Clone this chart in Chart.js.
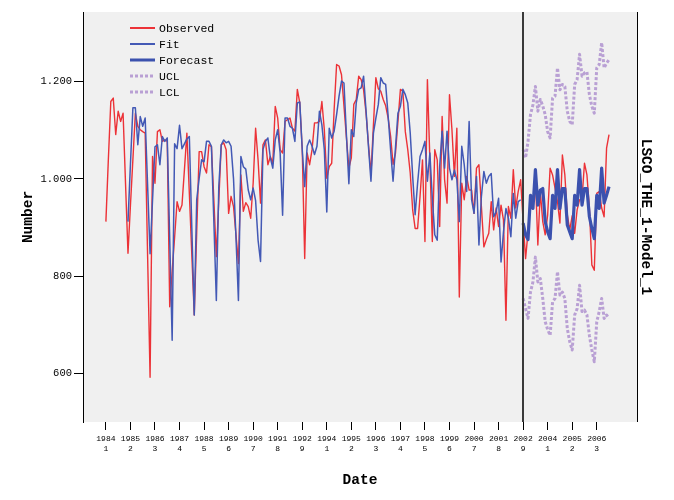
<!DOCTYPE html>
<html>
<head>
<meta charset="utf-8">
<script src="https://cdn.jsdelivr.net/npm/chart.js@4.4.1/dist/chart.umd.min.js"></script>
<style>
  html, body { margin: 0; padding: 0; background: #fff; }
  canvas { display: block; }
</style>
</head>
<body>
<canvas id="chart" width="674" height="500"></canvas>
<script>
// tick labels: year / period, one every 10 observations
const tickYears = ['1984','1985','1986','1987','1988','1989','1990','1991','1992','1994','1995',
  '1996','1997','1998','1999','2000','2001','2002','2004','2005','2006'];
const tickPeriods = ['1','2','3','4','5','6','7','8','9','1','2','3','4','5','6','7','8','9','1','2','3'];

// observed series, index 0 .. 205
const observed = [
  912,1040,1159,1166,1091,1139,1118,1135,990,847,
  945,1040,1135,1108,1101,1097,1094,840,592,1046,
  991,1097,1101,1077,1080,1077,737,810,880,953,
  933,946,1019,1094,970,845,720,890,1056,1056,
  1025,1012,1070,1066,955,840,955,1070,1074,1060,
  929,964,943,885,826,1008,933,951,943,919,
  991,1104,1039,950,1070,1080,1029,1046,1032,1149,
  1125,1060,1053,1118,1122,1125,1104,1098,1184,1156,
  1060,836,1053,1029,1060,1115,1115,1118,1159,1101,
  1001,1025,1032,1142,1235,1232,1214,1150,1085,1022,
  1043,1153,1163,1211,1204,1183,1135,1070,1010,1110,
  1208,1185,1180,1163,1150,1125,1088,1030,1053,1118,
  1184,1180,1097,1060,1012,936,898,898,964,1039,
  871,1204,1040,871,1060,1039,902,1128,998,950,
  1173,1101,1005,1104,757,991,957,1005,977,977,
  929,1022,1029,943,860,875,888,953,895,940,
  902,946,915,709,943,919,1019,940,974,998,
  912,836,891,967,943,1005,864,974,912,885,
  926,1022,1008,981,953,909,1049,1008,926,895,
  924,888,936,957,960,1032,1008,940,823,812,
  970,974,940,922,1063,1091
];

// model fit, index 9 .. 169
const fitStart = 9;
const fit = [
  912,1030,1146,1146,1070,1128,1108,1125,985,846,
  956,1066,1070,1029,1087,1077,1084,876,668,1072,
  1062,1110,1062,1072,1082,1087,900,720,957,1001,
  1039,1035,1077,1077,1067,910,750,984,1070,1080,
  1074,1077,1067,1000,880,750,1046,1025,1020,977,
  957,981,955,874,830,1060,1077,1084,1043,1022,
  1080,1101,1053,925,1125,1125,1108,1104,1077,1156,
  1158,1060,984,1067,1080,1067,1050,1067,1139,1111,
  1060,932,1104,1084,1098,1132,1170,1201,1197,1090,
  990,1101,1087,1156,1184,1187,1211,1140,1065,995,
  1094,1125,1153,1208,1197,1194,1129,1060,995,1065,
  1135,1149,1184,1173,1156,1094,1005,926,991,1046,
  1060,1077,995,1053,960,885,874,1025,1098,1022,
  1098,1022,998,1018,998,912,1067,1029,974,1118,
  957,929,1005,864,964,1015,991,1005,1011,922,
  932,960,829,891,939,919,881,970,919,953,
  957
];

// forecast with limits, index 170 .. 205
const forecastStart = 170;
const forecast = [
  909,885,875,966,939,1019,946,977,980,
  912,891,877,966,939,1019,939,980,980,
  905,891,877,966,946,1019,946,980,980,
  922,898,877,966,939,1022,950,966,984
];
const ucl = [
  1060,1043,1077,1132,1152,1190,1139,1163,1150,
  1132,1097,1084,1166,1170,1228,1183,1194,1190,
  1139,1118,1111,1194,1204,1256,1211,1218,1220,
  1173,1149,1135,1228,1235,1280,1228,1238,1245
];
const lcl = [
  754,733,713,767,788,839,788,795,754,
  706,690,678,747,754,809,761,767,754,
  692,665,648,720,733,781,727,730,720,
  678,648,624,706,727,754,713,720,713
];

const toPoints = (values, start) => values.map((v, i) => ({ x: start + i, y: v }));

const MONO = "'Liberation Mono', 'Courier New', monospace";

const fmtNumber = v => {
  let s = String(v);
  if (v >= 1000) s = s.slice(0, -3) + '.' + s.slice(-3);
  return s;
};

const background = {
  id: 'background',
  beforeDraw(chart) {
    const ctx = chart.ctx;
    const a = chart.chartArea;
    ctx.save();
    ctx.fillStyle = '#ffffff';
    ctx.fillRect(0, 0, chart.width, chart.height);
    ctx.fillStyle = '#f0f0f0';
    ctx.fillRect(a.left, a.top, a.right - a.left, a.bottom - a.top);
    ctx.restore();
  }
};

const extras = {
  id: 'extras',
  afterDraw(chart) {
    const ctx = chart.ctx;
    const a = chart.chartArea;
    const xs = chart.scales.x;
    ctx.save();

    // forecast start line
    const vx = Math.round(xs.getPixelForValue(forecastStart));
    ctx.strokeStyle = '#3a3a3a';
    ctx.lineWidth = 2;
    ctx.beginPath();
    ctx.moveTo(vx, a.top);
    ctx.lineTo(vx, a.bottom);
    ctx.stroke();

    // right frame line
    ctx.strokeStyle = '#000';
    ctx.lineWidth = 1;
    ctx.beginPath();
    ctx.moveTo(a.right + 0.5, a.top);
    ctx.lineTo(a.right + 0.5, a.bottom);
    ctx.stroke();

    // legend
    ctx.font = '11.5px ' + MONO;
    ctx.textBaseline = 'middle';
    ctx.textAlign = 'left';
    chart.data.datasets.forEach((ds, i) => {
      const y = a.top + 16 + i * 16;
      const x0 = a.left + 47;
      ctx.strokeStyle = ds.borderColor;
      ctx.lineWidth = ds.legendWidth;
      ctx.setLineDash(ds.borderDash || []);
      ctx.beginPath();
      ctx.moveTo(x0, y);
      ctx.lineTo(x0 + 25, y);
      ctx.stroke();
      ctx.setLineDash([]);
      ctx.fillStyle = '#000';
      ctx.fillText(ds.label, x0 + 29, y + 1);
    });

    // axis titles
    ctx.fillStyle = '#000';
    ctx.font = 'bold 14.5px ' + MONO;
    ctx.textAlign = 'center';
    ctx.textBaseline = 'middle';
    ctx.fillText('Date', (a.left + a.right) / 2, 480);

    ctx.save();
    ctx.translate(32, (a.top + a.bottom) / 2);
    ctx.rotate(-Math.PI / 2);
    ctx.textBaseline = 'alphabetic';
    ctx.fillText('Number', 0, 0);
    ctx.restore();

    ctx.save();
    ctx.translate(a.right + 5, (a.top + a.bottom) / 2);
    ctx.rotate(Math.PI / 2);
    ctx.textBaseline = 'alphabetic';
    ctx.fillText('LSCO_THE_1-Model_1', 0, 0);
    ctx.restore();

    ctx.restore();
  }
};

const lineStyle = { pointRadius: 0, tension: 0, borderJoinStyle: 'round', borderCapStyle: 'butt' };

const config = {
  type: 'line',
  data: {
    datasets: [
      {
        ...lineStyle,
        label: 'Observed',
        data: toPoints(observed, 0),
        borderColor: '#ec3237',
        borderWidth: 1.4,
        legendWidth: 2,
        order: 3
      },
      {
        ...lineStyle,
        label: 'Fit',
        data: toPoints(fit, fitStart),
        borderColor: '#4359b5',
        borderWidth: 1.5,
        legendWidth: 2,
        order: 2
      },
      {
        ...lineStyle,
        label: 'Forecast',
        data: toPoints(forecast, forecastStart),
        borderColor: '#3b51ae',
        borderWidth: 3.2,
        legendWidth: 3,
        order: 1
      },
      {
        ...lineStyle,
        label: 'UCL',
        data: toPoints(ucl, forecastStart),
        borderColor: '#b9a0d4',
        borderWidth: 3,
        legendWidth: 3,
        borderDash: [3, 2],
        order: 1
      },
      {
        ...lineStyle,
        label: 'LCL',
        data: toPoints(lcl, forecastStart),
        borderColor: '#b9a0d4',
        borderWidth: 3,
        legendWidth: 3,
        borderDash: [3, 2],
        order: 1
      }
    ]
  },
  options: {
    responsive: false,
    animation: false,
    devicePixelRatio: 1,
    layout: { padding: { left: 0, right: 37, top: 12, bottom: 0 } },
    plugins: {
      legend: { display: false },
      tooltip: { enabled: false }
    },
    scales: {
      x: {
        type: 'linear',
        min: -9.33,
        max: 216.4,
        afterBuildTicks: scale => {
          scale.ticks = tickYears.map((_, k) => ({ value: k * 10 }));
        },
        afterFit: scale => { scale.height = 78; },
        ticks: {
          autoSkip: false,
          maxRotation: 0,
          padding: 4,
          color: '#000',
          font: { family: MONO, size: 8, lineHeight: 1.2 },
          callback: value => {
            const k = Math.round(value / 10);
            return [tickYears[k], tickPeriods[k]];
          }
        },
        grid: { drawOnChartArea: false, drawTicks: true, tickLength: 8, color: '#000' },
        border: { display: false }
      },
      y: {
        min: 500,
        max: 1343,
        afterBuildTicks: scale => {
          scale.ticks = [600, 800, 1000, 1200].map(v => ({ value: v }));
        },
        afterFit: scale => { scale.width = 83; },
        ticks: {
          padding: 2,
          color: '#000',
          font: { family: MONO, size: 10.5 },
          callback: value => fmtNumber(value)
        },
        grid: { drawOnChartArea: false, tickLength: 9, color: '#000' },
        border: { display: true, color: '#000', width: 1 }
      }
    }
  },
  plugins: [background, extras]
};

const chart = new Chart(document.getElementById('chart'), config);
</script>
</body>
</html>
